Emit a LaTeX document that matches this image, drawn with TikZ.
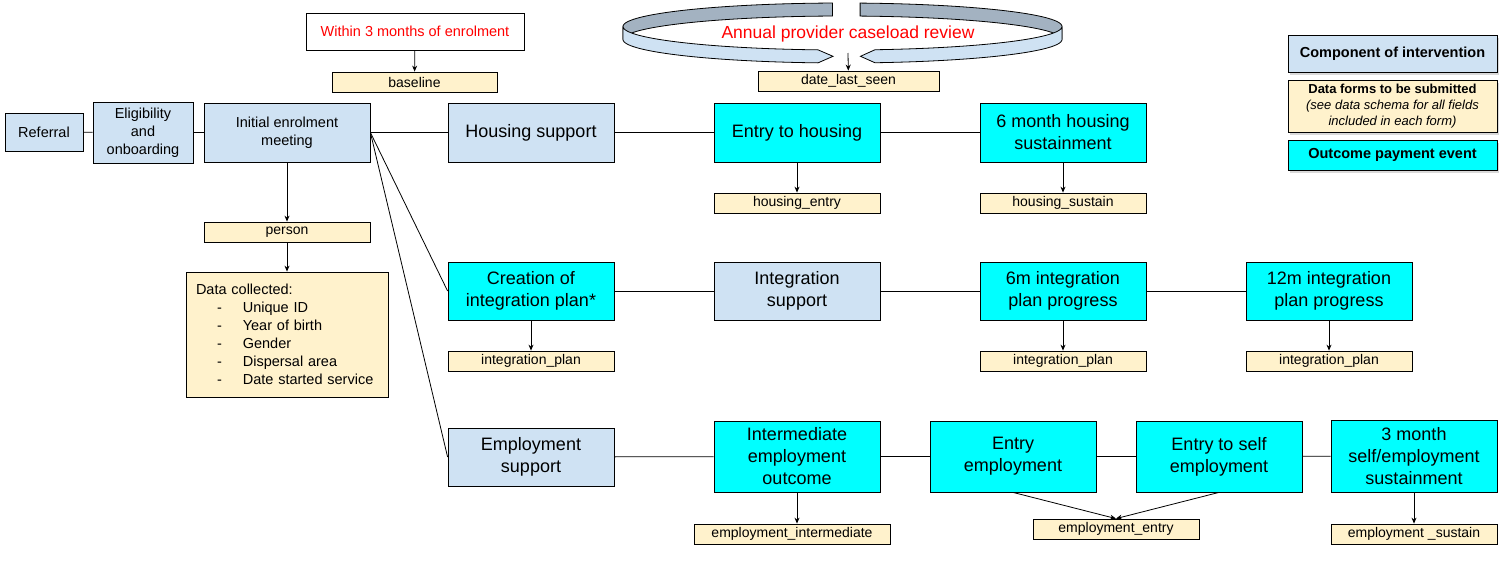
\documentclass[tikz,border=0pt]{standalone}
\usepackage{fontspec}
\setmainfont{Liberation Sans}
\usetikzlibrary{arrows.meta,positioning,shadows}
\definecolor{compblue}{HTML}{CFE2F3}
\definecolor{formyel}{HTML}{FFF2CC}
\definecolor{payblue}{HTML}{00FFFF}
\definecolor{ringdark}{HTML}{A3B2C1}
\newcommand{\bigtxt}{\fontsize{18}{22}\selectfont}
\newcommand{\midtxt}{\fontsize{14.5}{18}\selectfont}
\newcommand{\labtxt}{\fontsize{14}{17}\selectfont}

\begin{document}
\begin{tikzpicture}[x=1pt, y=-1pt,
    every node/.style={draw, line width=0.8pt, inner sep=2pt, align=center},
    comp/.style={fill=compblue, minimum width=166pt, minimum height=59pt, font=\bigtxt},
    payout/.style={fill=payblue, minimum width=166pt, minimum height=59pt, font=\bigtxt},
    form/.style={fill=formyel, minimum width=166pt, minimum height=20pt, inner sep=0pt, font=\labtxt},
    legend/.style={minimum width=209pt, drop shadow={shadow xshift=1.5pt, shadow yshift=-2.5pt, opacity=0.3}},
    link/.style={line width=0.8pt},
    arr/.style={-{Stealth[length=6pt,width=5pt]}, line width=0.8pt},
  ]
  \useasboundingbox (0,0) rectangle (1508,563);

  % annual review ring: back band dark, front band light with pointed ends
  \begin{scope}[line width=0.8pt]
  \filldraw[fill=ringdark] plot[domain=92.6:180, samples=40] ({842.5+219.5*cos(\x)},{26.5-23.5*sin(\x)})
    -- plot[domain=180:92.6, samples=40] ({842.5+219.5*cos(\x)},{39.5-23.5*sin(\x)}) -- cycle;
  \filldraw[fill=ringdark] plot[domain=85.4:0, samples=40] ({842.5+219.5*cos(\x)},{26.5-23.5*sin(\x)})
    -- plot[domain=0:85.4, samples=40] ({842.5+219.5*cos(\x)},{39.5-23.5*sin(\x)}) -- cycle;
  \filldraw[fill=compblue] plot[domain=180:263.6, samples=40] ({842.5+219.5*cos(\x)},{26.5-23.5*sin(\x)})
    -- (833,56.3) -- plot[domain=263.6:180, samples=40] ({842.5+219.5*cos(\x)},{39.5-23.5*sin(\x)}) -- cycle;
  \filldraw[fill=compblue] plot[domain=360:278.5, samples=40] ({842.5+219.5*cos(\x)},{26.5-23.5*sin(\x)})
    -- (860.5,56.3) -- plot[domain=278.5:360, samples=40] ({842.5+219.5*cos(\x)},{39.5-23.5*sin(\x)}) -- cycle;
  \end{scope}
  \node[draw=none, text=red, font=\fontsize{17.5}{21}\selectfont] (ringtxt) at (848,34) {Annual provider caseload review};
  \coordinate (ringtip) at (848,53);

  % enrolment path
  \node[comp, minimum width=78pt, minimum height=38pt, font=\midtxt] (referral) at (44,132) {Referral};
  \node[comp, minimum width=100pt, minimum height=61pt, font=\midtxt] (elig) at (143,132.5) {Eligibility\\and\\onboarding};
  \node[comp, font=\midtxt] (enrol) at (287,132.5) {Initial enrolment\\meeting};
  \node[form] (person) at (287,232) {person};
  \node[form, minimum width=202pt, minimum height=125pt, text width=182pt, font=\midtxt, align=left] (datacol) at (287,334.5)
    {Data collected:\\
     \hspace*{21pt}-\hspace{21pt}Unique ID\\
     \hspace*{21pt}-\hspace{21pt}Year of birth\\
     \hspace*{21pt}-\hspace{21pt}Gender\\
     \hspace*{21pt}-\hspace{21pt}Dispersal area\\
     \hspace*{21pt}-\hspace{21pt}Date started service};
  \node[minimum width=218pt, minimum height=37pt, text=red, font=\midtxt] (within) at (415,31.5) {Within 3 months of enrolment};
  \node[form, minimum width=165pt] (baseline) at (414.5,82) {baseline};
  \node[form, minimum width=181pt] (lastseen) at (848.5,81) {date\_last\_seen};

  % housing row
  \node[comp] (hsup) at (531,132.5) {Housing support};
  \node[payout] (hentry) at (797,132.5) {Entry to housing};
  \node[payout] (hsust) at (1063,132.5) {6 month housing\\sustainment};
  \node[form] (hentryf) at (797,203) {housing\_entry};
  \node[form] (hsustf) at (1063,203) {housing\_sustain};

  % integration row
  \node[payout, minimum height=58pt] (plan) at (531,291) {Creation of\\integration plan*};
  \node[comp, minimum height=58pt] (isup) at (797,291) {Integration\\support};
  \node[payout, minimum height=58pt] (prog6) at (1063,291) {6m integration\\plan progress};
  \node[payout, minimum height=58pt] (prog12) at (1329,291) {12m integration\\plan progress};
  \node[form] (planf) at (531,361) {integration\_plan};
  \node[form] (prog6f) at (1063,361) {integration\_plan};
  \node[form] (prog12f) at (1329,361) {integration\_plan};

  % employment row
  \node[comp, minimum height=58pt] (esup) at (531,457) {Employment\\support};
  \node[payout, minimum height=71pt] (einter) at (797,456.5) {Intermediate\\employment\\outcome};
  \node[payout, minimum height=71pt] (eentry) at (1013,456.5) {Entry\\employment};
  \node[payout, minimum height=71pt] (eself) at (1219,456.5) {Entry to self\\employment};
  \node[payout, minimum height=72pt] (esust) at (1414,456) {3 month\\self/employment\\sustainment};
  \node[form, minimum width=196pt] (einterf) at (792,534) {employment\_intermediate};
  \node[form] (eentryf) at (1116,529) {employment\_entry};
  \node[form] (esustf) at (1414,534) {employment \_sustain};

  % legend
  \node[comp, legend, minimum height=37pt, font=\bfseries\fontsize{14.5}{18}\selectfont] (leg1) at (1392.5,53.5) {Component of intervention};
  \node[form, legend, minimum height=52pt, font=\fontsize{13}{16}\selectfont] (leg2) at (1392.5,106)
    {\textbf{Data forms to be submitted}\\\textit{(see data schema for all fields}\\\textit{included in each form)}};
  \node[payout, legend, minimum height=30pt, font=\bfseries\fontsize{14.5}{18}\selectfont] (leg3) at (1392.5,155) {Outcome payment event};

  % connectors
  \draw[link] (referral) -- (elig);
  \draw[link] (elig) -- (enrol);
  \draw[link] (enrol.east) -- (hsup);
  \draw[link] (enrol.east) -- (plan.west);
  \draw[link] (enrol.east) -- (esup.west);
  \draw[link] (hsup) -- (hentry);
  \draw[link] (hentry) -- (hsust);
  \draw[link] (plan) -- (isup);
  \draw[link] (isup) -- (prog6);
  \draw[link] (prog6) -- (prog12);
  \draw[link] (esup) -- (einter);
  \draw[link] (einter) -- (eentry);
  \draw[link] (eentry) -- (eself);
  \draw[link] (eself) -- (esust);

  % data forms
  \draw[arr] (enrol) -- (person);
  \draw[arr] (person) -- (datacol);
  \draw[arr] (within) -- (baseline);
  \draw[arr] (ringtip) -- (lastseen);
  \draw[arr] (hentry) -- (hentryf);
  \draw[arr] (hsust) -- (hsustf);
  \draw[arr] (plan) -- (planf);
  \draw[arr] (prog6) -- (prog6f);
  \draw[arr] (prog12) -- (prog12f);
  \draw[arr] (einter.south) -- (einter.south |- einterf.north);
  \draw[arr] (eentry.south) -- (eentryf.north);
  \draw[arr] (eself.south) -- (eentryf.north);
  \draw[arr] (esust) -- (esustf);
\end{tikzpicture}
\end{document}
